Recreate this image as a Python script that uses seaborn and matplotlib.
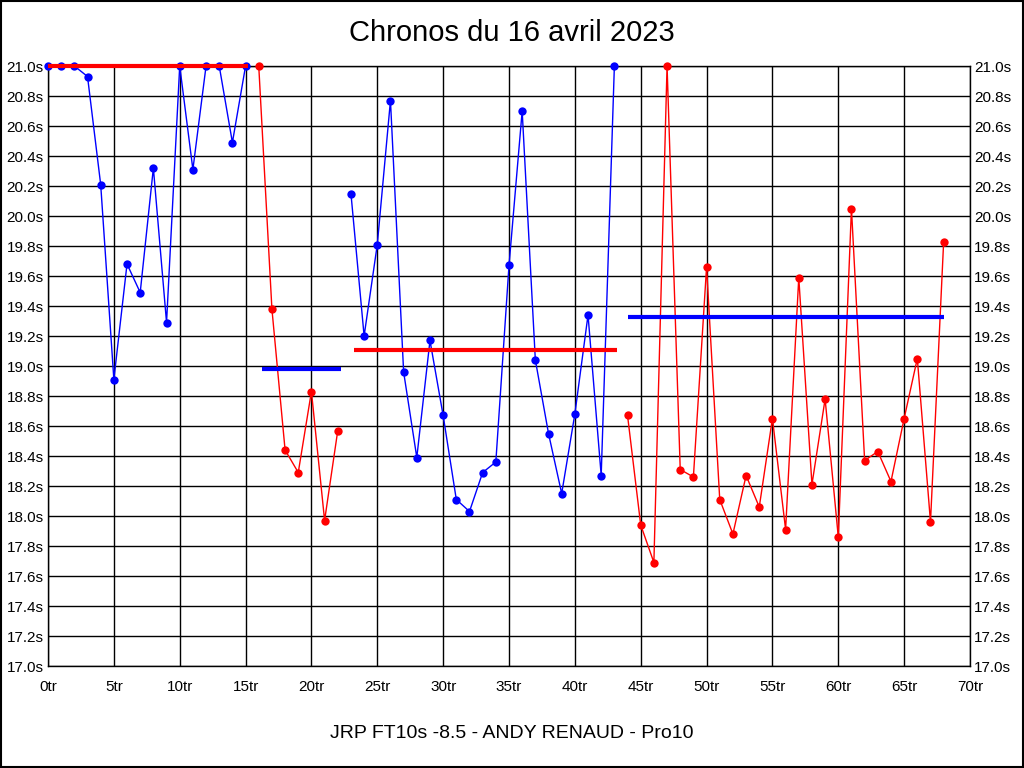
import matplotlib
matplotlib.use('Agg')
import matplotlib.pyplot as plt
import pandas as pd
import seaborn as sns
import numpy as np

# Lap times (seconds), split in alternating segments
seg1_tours = list(range(0, 16))
seg1_times = [21.0, 21.0, 21.0, 20.93, 20.21, 18.91, 19.68, 19.49, 20.32, 19.29,
              21.0, 20.31, 21.0, 21.0, 20.49, 21.0]
seg2_tours = list(range(16, 23))
seg2_times = [21.0, 19.38, 18.44, 18.29, 18.83, 17.97, 18.57]
seg3_tours = list(range(23, 44))
seg3_times = [20.15, 19.2, 19.81, 20.77, 18.96, 18.39, 19.17, 18.67, 18.11, 18.03,
              18.29, 18.36, 19.67, 20.7, 19.04, 18.55, 18.15, 18.68, 19.34, 18.27, 21.0]
seg4_tours = list(range(44, 69))
seg4_times = [18.67, 17.94, 17.69, 21.0, 18.31, 18.26, 19.66, 18.11, 17.88, 18.27,
              18.06, 18.65, 17.91, 19.59, 18.21, 18.78, 17.86, 20.05, 18.37, 18.43,
              18.23, 18.65, 19.05, 17.96, 19.83]
seg_colors = ['blue', 'red', 'blue', 'red']

# Average lines: (start, end, level), drawn in the opposite colour
avg_starts = [0, 16.25, 23.2, 44.0]
avg_ends = [15.2, 22.25, 43.2, 68.0]
avg_levels = [21.0, 18.98, 19.11, 19.33]

sns.set_style('white', {'text.color': 'black', 'xtick.color': 'black', 'ytick.color': 'black'})
plt.rcParams['font.family'] = ['Liberation Sans', 'DejaVu Sans']

fig = plt.figure(figsize=(10.24, 7.68), dpi=100)
ax = fig.add_axes([48/1024, 1-666/768, 922/1024, 600/768])

segs = [(seg1_tours, seg1_times), (seg2_tours, seg2_times),
        (seg3_tours, seg3_times), (seg4_tours, seg4_times)]
for (t, v), c in zip(segs, seg_colors):
    df = pd.DataFrame({'tour': t, 'time': v})
    sns.lineplot(data=df, x='tour', y='time', ax=ax, color=c, lw=1,
                 marker='o', markersize=6, markeredgewidth=0, zorder=3, clip_on=False)

for s, e, lvl, c in zip(avg_starts, avg_ends, avg_levels, seg_colors):
    oc = 'red' if c == 'blue' else 'blue'
    ax.plot([s, e], [lvl, lvl], color=oc, lw=3, zorder=4, solid_capstyle='butt', clip_on=False)

ax.set_xlim(0, 70)
ax.set_ylim(17.0, 21.0)
ax.set_xticks(np.arange(0, 71, 5))
ax.set_xticklabels([f'{x}tr' for x in range(0, 71, 5)])
yt = np.round(np.arange(17.0, 21.01, 0.2), 1)
ax.set_yticks(yt)
ax.set_yticklabels([f'{y:.1f}s' for y in yt])
ax.grid(True, color='black', lw=1)
ax.set_axisbelow(True)
ax.tick_params(axis='both', labelsize=11, length=0, colors='black')
ax.tick_params(axis='x', pad=10)
ax.tick_params(axis='y', pad=3, right=True, labelright=True)
for sp in ax.spines.values():
    sp.set_color('black')
    sp.set_linewidth(1)
ax.set_xlabel('')
ax.set_ylabel('')

fig.text(0.5, 1-33/768, 'Chronos du 16 avril 2023', ha='center', va='center', fontsize=21, color='black')
fig.text(0.5, 1-733/768, 'JRP FT10s -8.5 - ANDY RENAUD - Pro10', ha='center', va='center', fontsize=14, color='black')

# black frame around the picture
fig.patches.append(plt.Rectangle((0.0005, 0.0007), 0.999, 0.9986, transform=fig.transFigure,
                                 fill=False, edgecolor='black', lw=1.5))

fig.savefig('out.png', dpi=100)
